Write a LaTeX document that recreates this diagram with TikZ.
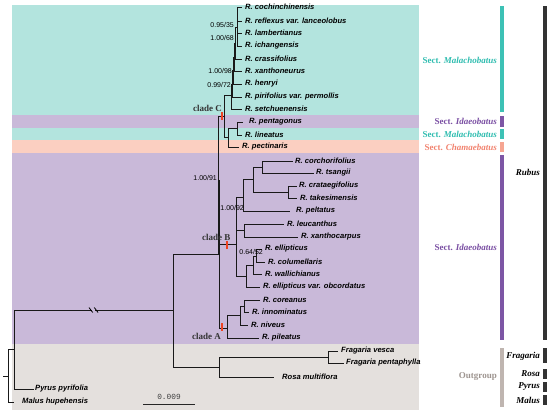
\documentclass[tikz,border=0pt]{standalone}
\usepackage{fontspec}
\setmainfont{Liberation Serif}
\newfontfamily\arialf{Liberation Sans}
\newfontfamily\monof{Liberation Mono}
\definecolor{bandteal}{HTML}{B3E4DE}
\definecolor{bandpurple}{HTML}{C9B9D9}
\definecolor{bandsalmon}{HTML}{FBCFC1}
\definecolor{bandgray}{HTML}{E4E0DD}
\definecolor{barteal}{HTML}{3DC1B5}
\definecolor{barpurple}{HTML}{7D56A5}
\definecolor{barsalmon}{HTML}{F6A592}
\definecolor{bargray}{HTML}{BFB5B0}
\definecolor{txtteal}{HTML}{2FBDB0}
\definecolor{txtpurple}{HTML}{7A4FA3}
\definecolor{txtsalmon}{HTML}{F2836F}
\definecolor{txtgray}{HTML}{9E9590}
\definecolor{ticked}{HTML}{EE4422}
\begin{document}
\begin{tikzpicture}[x=1pt,y=-1pt,
  br/.style={line width=1pt, black!90, line cap=rect},
  leaf/.style={anchor=west, inner xsep=4pt, inner ysep=0pt, font=\arialf\bfseries\itshape\fontsize{7.6}{8}\selectfont},
  sup/.style={anchor=east, inner sep=0pt, font=\arialf\fontsize{7}{8}\selectfont},
  sect/.style={anchor=east, inner sep=0pt, font=\bfseries\fontsize{9}{10}\selectfont},
  genus/.style={anchor=east, inner sep=0pt, font=\bfseries\itshape\fontsize{9}{10}\selectfont},
  cladelbl/.style={anchor=west, inner sep=0pt, text=black!80, font=\bfseries\fontsize{9}{10}\selectfont},
  ]
\useasboundingbox (0,0) rectangle (550,416);
\fill[white] (0,0) rectangle (550,416);
% bands
\fill[bandteal] (12,5) rectangle (419,115);
\fill[bandpurple] (12,115) rectangle (419,128);
\fill[bandteal] (12,128) rectangle (419,140);
\fill[bandsalmon] (12,140) rectangle (419,153);
\fill[bandpurple] (12,153) rectangle (419,344);
\fill[bandgray] (12,344) rectangle (419,410);

% leaves
\node[leaf] (Lcoc) at (241,7) {R. cochinchinensis};
\node[leaf] (Lref) at (241,21) {R. reflexus var. lanceolobus};
\node[leaf] (Llam) at (241,33) {R. lambertianus};
\node[leaf] (Lich) at (241,46) {R. ichangensis};
\node[leaf] (Lcra) at (241,59) {R. crassifolius};
\node[leaf] (Lxan) at (241,71) {R. xanthoneurus};
\node[leaf] (Lhen) at (241,84) {R. henryi};
\node[leaf] (Lpir) at (241,97) {R. pirifolius var. permollis};
\node[leaf] (Lset) at (241,109) {R. setchuenensis};
\node[leaf, inner xsep=7pt] (Lpen) at (242,122) {R. pentagonus};
\node[leaf] (Llin) at (241,135) {R. lineatus};
\node[leaf] (Lpec) at (238,147) {R. pectinaris};
\node[leaf, inner xsep=3pt] (Lcor) at (292,161) {R. corchorifolius};
\node[leaf, inner xsep=3pt] (Ltsa) at (313,173) {R. tsangii};
\node[leaf, inner xsep=3pt] (Lcrt) at (296,186) {R. crataegifolius};
\node[leaf] (Ltak) at (296,198) {R. takesimensis};
\node[leaf, inner xsep=7pt] (Lpel) at (289,211) {R. peltatus};
\node[leaf] (Lleu) at (283,224) {R. leucanthus};
\node[leaf] (Lxac) at (297,237) {R. xanthocarpus};
\node[leaf] (Lell) at (261,249) {R. ellipticus};
\node[leaf] (Lcol) at (264,262) {R. columellaris};
\node[leaf] (Lwal) at (261,274) {R. wallichianus};
\node[leaf] (Lobc) at (259,287) {R. ellipticus var. obcordatus};
\node[leaf] (Lkor) at (259,300) {R. coreanus};
\node[leaf] (Linn) at (248,312) {R. innominatus};
\node[leaf] (Lniv) at (247,325) {R. niveus};
\node[leaf] (Lpil) at (258,338) {R. pileatus};
\node[leaf] (Lfve) at (337,351) {Fragaria vesca};
\node[leaf, inner xsep=3pt] (Lfpe) at (343,363) {Fragaria pentaphylla};
\node[leaf, inner xsep=9pt] (Lros) at (273,377) {Rosa multiflora};
\node[leaf, inner xsep=2pt] (Lpyr) at (33,389) {Pyrus pyrifolia};
\node[leaf, inner xsep=9pt] (Lmal) at (13,402) {Malus hupehensis};

% internal nodes
\coordinate (m0) at (237,27);
\coordinate (m1) at (235,43);
\coordinate (m2) at (234,57);
\coordinate (m3) at (233,70);
\coordinate (m4) at (232,84);
\coordinate (m5) at (231,95);
\coordinate (nC) at (224,116);
\coordinate (p0) at (237,128);
\coordinate (p1) at (228,137);
\coordinate (c1) at (262,167);
\coordinate (c2) at (288,192);
\coordinate (c3) at (253,179);
\coordinate (c4) at (243,197);
\coordinate (c5) at (244,230);
\coordinate (e0) at (256,256);
\coordinate (e1) at (253,265);
\coordinate (e2) at (246,276);
\coordinate (nB) at (236,244);
\coordinate (a2) at (244,306);
\coordinate (a1) at (240,315);
\coordinate (nA) at (227,328);
\coordinate (nR) at (218,254);
\coordinate (nAB) at (219.4,180);
\coordinate (nF) at (328,357);
\coordinate (nO) at (219,367);
\coordinate (nI) at (173,310);
\coordinate (nX) at (14,349);
\coordinate (n0) at (8,376);
\coordinate (rt) at (3,376);

% clade C ladder
\draw[br] (m0 |- Lcoc.west) -- (m0 |- Lich.west);
\foreach \l in {Lcoc,Lref,Llam,Lich} \draw[br] (m0 |- \l.west) -- (\l.west);
\draw[br] (m1 |- m0) -- (m1 |- Lcra.west) -- (Lcra.west);
\draw[br] (m1 |- m0) -- (m0);
\draw[br] (m2 |- m1) -- (m2 |- Lxan.west) -- (Lxan.west);
\draw[br] (m2 |- m1) -- (m1);
\draw[br] (m3 |- m2) -- (m3 |- Lhen.west) -- (Lhen.west);
\draw[br] (m3 |- m2) -- (m2);
\draw[br] (m4 |- m3) -- (m4 |- Lpir.west) -- (Lpir.west);
\draw[br] (m4 |- m3) -- (m3);
\draw[br] (m5 |- m4) -- (m5 |- Lset.west) -- (Lset.west);
\draw[br] (m5 |- m4) -- (m4);
\draw[br] (m5) -- (nC |- m5) -- (nC |- p1) -- (p1);
% pentagonus group
\draw[br] (Lpen.west) -- (p0 |- Lpen.west) -- (p0 |- Llin.west) -- (Llin.west);
\draw[br] (p0) -- (p1 |- p0) -- (p1 |- Lpec.west) -- (Lpec.west);
% backbone
\draw[br] (nC) -- (nR |- nC) -- (nR);
\draw[br] (nAB) -- (nAB |- nA);
\draw[br] (nAB |- nB) -- (nB);
\draw[br] (nAB |- nA) -- (nA);
% clade B
\draw[br] (nB |- c4) -- (nB |- e2);
\draw[br] (nB |- c4) -- (c4);
\draw[br] (nB |- c5) -- (c5);
\draw[br] (nB |- e2) -- (e2);
\draw[br] (c3) -- (c4 |- c3) -- (c4 |- Lpel.west) -- (Lpel.west);
\draw[br] (c1) -- (c3 |- c1) -- (c3 |- c2) -- (c2);
\draw[br] (Lcor.west) -- (c1 |- Lcor.west) -- (c1 |- Ltsa.west) -- (Ltsa.west);
\draw[br] (Lcrt.west) -- (c2 |- Lcrt.west) -- (c2 |- Ltak.west) -- (Ltak.west);
\draw[br] (Lleu.west) -- (c5 |- Lleu.west) -- (c5 |- Lxac.west) -- (Lxac.west);
\draw[br] (e1) -- (e2 |- e1) -- (e2 |- Lobc.west) -- (Lobc.west);
\draw[br] (e0) -- (e1 |- e0) -- (e1 |- Lwal.west) -- (Lwal.west);
\draw[br] (Lell.west) -- (e0 |- Lell.west) -- (e0 |- Lcol.west) -- (Lcol.west);
% clade A
\draw[br] (a1) -- (nA |- a1) -- (nA |- Lpil.west) -- (Lpil.west);
\draw[br] (a2) -- (a1 |- a2) -- (a1 |- Lniv.west) -- (Lniv.west);
\draw[br] (Lkor.west) -- (a2 |- Lkor.west) -- (a2 |- Linn.west) -- (Linn.west);
% outgroups
\draw[br] (nR) -- (nI |- nR) -- (nI |- nO) -- (nO);
\draw[br] (nF) -- (nO |- nF) -- (nO |- Lros.west) -- (Lros.west);
\draw[br] (Lfve.west) -- (nF |- Lfve.west) -- (nF |- Lfpe.west) -- (Lfpe.west);
\draw[br] (nI) -- (nX |- nI) -- (nX |- Lpyr.west) -- (Lpyr.west);
\draw[br] (nX) -- (n0 |- nX) -- (n0 |- Lmal.west) -- (Lmal.west);
\draw[br] (rt) -- (n0);
% break marks
\coordinate (bk) at (93.5,310);
\fill[bandpurple] ([xshift=-1.5pt,yshift=-1.2pt]bk) rectangle ([xshift=1.5pt,yshift=1.2pt]bk);
\draw[line width=0.8pt] ([xshift=-4.5pt,yshift=2.5pt]bk) -- ([xshift=-0.8pt,yshift=-2.5pt]bk);
\draw[line width=0.8pt] ([xshift=0.8pt,yshift=2.5pt]bk) -- ([xshift=4.5pt,yshift=-2.5pt]bk);

% support values
\node[sup] (s1) at (234,25) {0.95/35};
\node[sup] (s2) at (234,38) {1.00/68};
\node[sup] (s3) at (232,71) {1.00/98};
\node[sup] (s4) at (231,85) {0.99/72};
\node[sup] (s5) at (217,178) {1.00/91};
\node[sup] (s6) at (244,208) {1.00/92};
\node[sup] (s7) at (263,252) {0.64/52};

% clade marks
\fill[ticked] (221.2,112) rectangle (223.4,119.5);
\fill[ticked] (226.2,240.5) rectangle (228.4,248.5);
\fill[ticked] (221.2,322.5) rectangle (223.4,330.5);
\node[cladelbl] (kC) at (193,108) {clade C};
\node[cladelbl] (kB) at (202,237) {clade B};
\node[cladelbl] (kA) at (192,336) {clade A};

% scale bar
\coordinate (sb1) at (143,404);
\coordinate (sb2) at (195,404);
\draw[line width=0.9pt, black!85] (sb1) -- (sb2);
\node[inner sep=0pt, text=black!75, font=\monof\fontsize{7.8}{8}\selectfont] (sbl) at (169,397) {0.009};

% right bars
\fill[barteal] (500,6) rectangle (504,112);
\fill[barpurple] (500,116) rectangle (504,127);
\fill[barteal] (500,129) rectangle (504,139);
\fill[barsalmon] (500,142) rectangle (504,152);
\fill[barpurple] (500,155) rectangle (504,340);
\fill[bargray] (500,348) rectangle (504,407);
\fill[black!80] (543,6) rectangle (547,340);
\fill[black!80] (543,348) rectangle (547,363);
\fill[black!80] (543,369) rectangle (547,379);
\fill[black!80] (543,382) rectangle (547,392);
\fill[black!80] (543,395) rectangle (547,405);

% right labels
\node[sect, text=txtteal] (t1) at (497,60) {Sect. \textit{Malachobatus}};
\node[sect, text=txtpurple] (t2) at (497,121) {Sect. \textit{Idaeobatus}};
\node[sect, text=txtteal] (t3) at (497,134) {Sect. \textit{Malachobatus}};
\node[sect, text=txtsalmon] (t4) at (497,147) {Sect. \textit{Chamaebatus}};
\node[sect, text=txtpurple] (t5) at (497,247) {Sect. \textit{Idaeobatus}};
\node[sect, text=txtgray] (t6) at (497,377) {Outgroup};
\node[genus] (g1) at (540,172) {Rubus};
\node[genus] (g2) at (540,356) {Fragaria};
\node[genus] (g3) at (540,374) {Rosa};
\node[genus] (g4) at (540,387) {Pyrus};
\node[genus] (g5) at (540,400) {Malus};
\end{tikzpicture}
\end{document}
